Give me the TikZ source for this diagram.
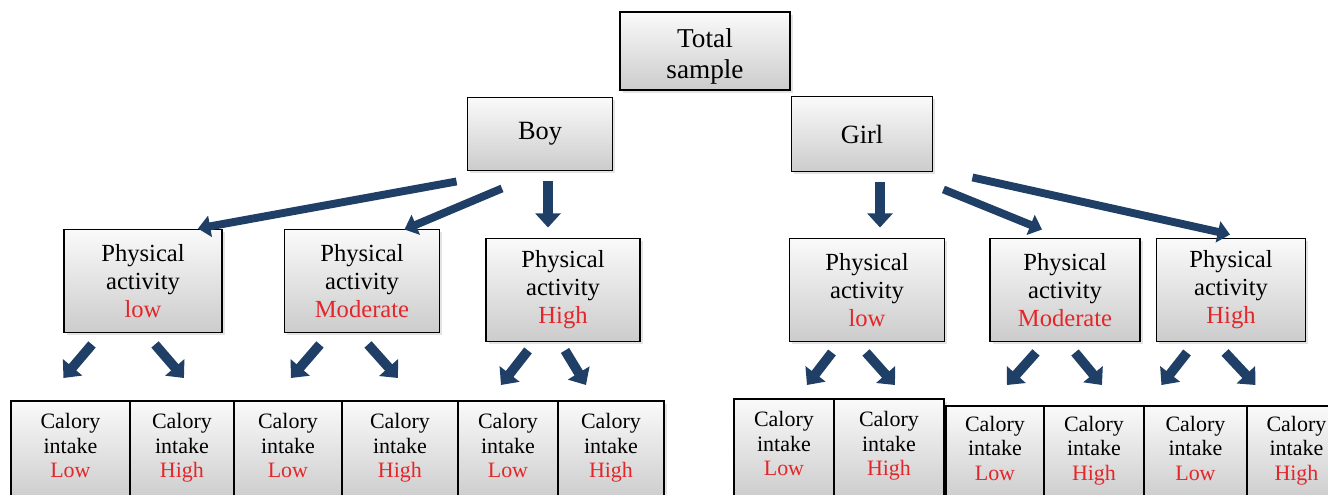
\documentclass[tikz,border=0pt]{standalone}
\usepackage{fontspec}
\setmainfont{Liberation Serif}
\usetikzlibrary{arrows.meta, calc, shadows}
\definecolor{arrblue}{RGB}{31,63,102}
\definecolor{lvlred}{RGB}{228,38,42}
\newcommand{\lowstrut}{\rule[-6pt]{0pt}{6pt}}

\begin{document}
\begin{tikzpicture}[
  x=0.02cm, y=-0.02cm,
  box/.style={draw, line width=1.1pt, top color=gray!4, bottom color=gray!40, align=center, inner sep=2pt,
    drop shadow={opacity=0.22, shadow xshift=1.5pt, shadow yshift=-1.5pt}},
  rootbox/.style={box, font=\fontsize{15.5}{18}\selectfont},
  sexbox/.style={box, font=\fontsize{15}{18}\selectfont},
  actbox/.style={box, minimum width=3.1cm, minimum height=2.06cm, font=\fontsize{14}{16}\selectfont},
  calbox/.style={box, anchor=north west, minimum height=2cm, font=\fontsize{12.5}{14}\selectfont},
  longarr/.style={arrblue, line width=4.5pt, -{Triangle[width=12pt,length=7pt]}},
  shortarr/.style={arrblue, line width=5.5pt, -{Triangle[width=14pt,length=8pt]}}
  ]
  \clip (0,0) rectangle (1328,494);
  % top levels
  \node[rootbox, minimum width=3.4cm, minimum height=1.56cm] (total) at (705,51) {\rule{0pt}{17pt}Total\\sample};
  \node[sexbox, minimum width=2.9cm, minimum height=1.46cm] (boy) at (540,134) {Boy};
  \node[sexbox, minimum width=2.82cm, minimum height=1.5cm] (girl) at (862,134) {Girl};
  % physical activity
  \node[actbox, minimum width=3.16cm] (bpl) at (143,281) {Physical\\activity\\{\color{lvlred}low}};
  \node[actbox] (bpm) at (362,281) {Physical\\activity\\{\color{lvlred}Moderate}};
  \node[actbox, minimum width=3.08cm] (bph) at (563,290) {Physical\\activity\\{\color{lvlred}High}};
  \node[actbox] (gpl) at (867,290) {Physical\\activity\\{\color{lvlred}low}};
  \node[actbox, minimum width=3cm] (gpm) at (1065,290) {Physical\\activity\\{\color{lvlred}Moderate}};
  \node[actbox, minimum width=2.98cm] (gph) at (1231,290) {Physical\\activity\\{\color{lvlred}High}};
  % calory intake, boys
  \node[calbox, minimum width=2.38cm] (bll) at (10,400) {Calory\\intake\\{\color{lvlred}Low}\lowstrut};
  \node[calbox, minimum width=2.08cm] (blh) at (129,400) {Calory\\intake\\{\color{lvlred}High}\lowstrut};
  \node[calbox, minimum width=2.16cm] (bml) at (233,400) {Calory\\intake\\{\color{lvlred}Low}\lowstrut};
  \node[calbox, minimum width=2.32cm] (bmh) at (341,400) {Calory\\intake\\{\color{lvlred}High}\lowstrut};
  \node[calbox, minimum width=2.0cm] (bhl) at (457,400) {Calory\\intake\\{\color{lvlred}Low}\lowstrut};
  \node[calbox, minimum width=2.12cm] (bhh) at (557,400) {Calory\\intake\\{\color{lvlred}High}\lowstrut};
  % calory intake, girls
  \node[calbox, minimum width=2.0cm] (gll) at (733,398) {Calory\\intake\\{\color{lvlred}Low}\lowstrut};
  \node[calbox, minimum width=2.2cm] (glh) at (833,398) {Calory\\intake\\{\color{lvlred}High}\lowstrut};
  \node[calbox, minimum width=1.96cm, minimum height=1.9cm] (gml) at (945,405) {Calory\\intake\\{\color{lvlred}Low}\lowstrut};
  \node[calbox, minimum width=2.0cm, minimum height=1.9cm] (gmh) at (1043,405) {Calory\\intake\\{\color{lvlred}High}\lowstrut};
  \node[calbox, minimum width=2.06cm, minimum height=1.9cm] (ghl) at (1143,405) {Calory\\intake\\{\color{lvlred}Low}\lowstrut};
  \node[calbox, minimum width=1.98cm, minimum height=1.9cm] (ghh) at (1246,405) {Calory\\intake\\{\color{lvlred}High}\lowstrut};
  % arrows to activity level
  \draw[longarr] ($(boy.south west)+(-10,10)$) -- ($(bpl.north east)+(-25,0)$);
  \draw[longarr] ($(boy.south)+(-38,17)$) -- ($(bpm.north east)+(-36,1)$);
  \draw[shortarr] ($(boy.south)+(8,10)$) -- ($(bph.north)+(-15,-10)$);
  \draw[shortarr] ($(girl.south)+(18,10)$) -- ($(gpl.north)+(13,-10)$);
  \draw[longarr] ($(girl.south east)+(10,17)$) -- ($(gpm.north)+(-23,-8)$);
  \draw[longarr] ($(girl.south east)+(39,5)$) -- ($(gph.north)+(-1,-3)$);
  % arrows to calory intake
  \draw[shortarr] ($(bpl.south)+(-51,11)$) -- ($(bll.north)+(-7,-22)$);
  \draw[shortarr] ($(bpl.south)+(12,11)$) -- ($(blh.north)+(2,-22)$);
  \draw[shortarr] ($(bpm.south)+(-42,11)$) -- ($(bml.north)+(3,-22)$);
  \draw[shortarr] ($(bpm.south)+(6,11)$) -- ($(bmh.north)+(-2,-22)$);
  \draw[shortarr] ($(bph.south)+(-35,8)$) -- ($(bhl.north)+(-7,-15)$);
  \draw[shortarr] ($(bph.south)+(2,8)$) -- ($(bhh.north)+(-25,-15)$);
  \draw[shortarr] ($(gpl.south)+(-35,10)$) -- ($(gll.north)+(23,-13)$);
  \draw[shortarr] ($(gpl.south)+(-1,10)$) -- ($(glh.north)+(6,-13)$);
  \draw[shortarr] ($(gpm.south)+(-29,10)$) -- ($(gml.north)+(12,-20)$);
  \draw[shortarr] ($(gpm.south)+(10,10)$) -- ($(gmh.north)+(8,-20)$);
  \draw[shortarr] ($(gph.south)+(-44,10)$) -- ($(ghl.north)+(-34,-20)$);
  \draw[shortarr] ($(gph.south)+(-6,10)$) -- ($(ghh.north)+(-41,-20)$);
\end{tikzpicture}
\end{document}
